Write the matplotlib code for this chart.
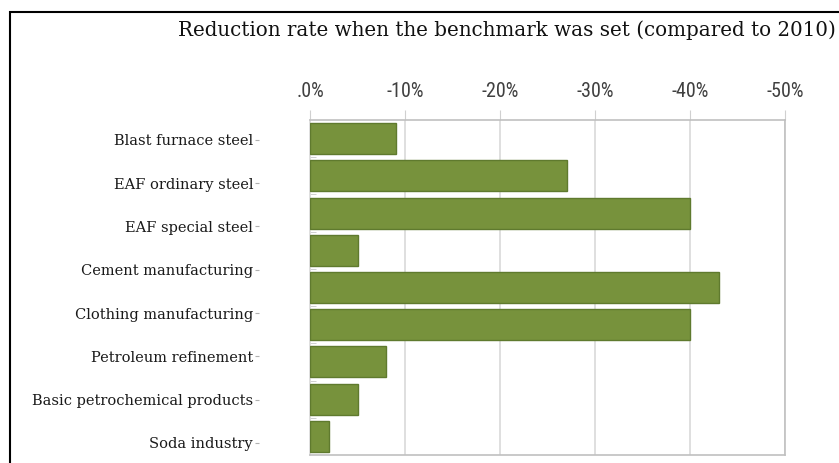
import matplotlib.pyplot as plt
import numpy as np
from matplotlib.patches import Rectangle

# reduction rate per bar (%), top to bottom
reduction = [-9, -27, -40, -5, -43, -40, -8, -5, -2]

sector_labels = ['Blast furnace steel', 'EAF ordinary steel', 'EAF special steel',
                 'Cement manufacturing', 'Clothing manufacturing', 'Petroleum refinement',
                 'Basic petrochemical products', 'Soda industry']

xticks = [0, -10, -20, -30, -40, -50]
xtick_labels = ['.0%', '-10%', '-20%', '-30%', '-40%', '-50%']

SERIF = ['DejaVu Serif']
NARROW = ['Roboto Condensed', 'Carlito', 'DejaVu Sans']

W, H = 839, 463
fig = plt.figure(figsize=(W / 100, H / 100), dpi=100)

# axes box in pixels: left 310, right 785, top 120, bottom 455
ax = fig.add_axes([310 / W, (H - 455) / H, 475 / W, 335 / H])

pos = np.arange(len(reduction))
ax.barh(pos, reduction, height=0.83, color='#77923c', edgecolor='#5f7a2e', linewidth=1, zorder=3)
ax.set_ylim(len(reduction) - 0.5, -0.5)
ax.set_xlim(0, -50)

ax.xaxis.tick_top()
ax.set_xticks(xticks)
ax.set_xticklabels(xtick_labels)
for t in ax.get_xticklabels():
    t.set_family(NARROW)
    t.set_fontsize(14.5)
    t.set_color('#404040')
ax.tick_params(axis='x', length=7, color='#d0d0d0', pad=7)
ax.grid(axis='x', color='#d9d9d9', linewidth=1.2, zorder=0)

ax.set_yticks([])
ax.set_yticks(pos[:-1] + 0.5, minor=True)
ax.tick_params(axis='y', which='minor', direction='in', length=4, color='#c8c8c8', labelleft=False)
for s in ax.spines.values():
    s.set_color('#c0c0c0')
    s.set_linewidth(1.2)
ax.spines['left'].set_color('#d9d9d9')

# sector names sit on their own scale, offset from the bars
ax2 = ax.twinx()
ax2.spines['left'].set_position(('outward', 37))
for s in ax2.spines.values():
    s.set_visible(False)
ax2.set_ylim(7.78, 0.04)
ax2.yaxis.set_ticks_position('left')
ax2.yaxis.set_label_position('left')
ax2.tick_params(axis='y', length=3, color='#b0b0b0', pad=1)
ax2.set_yticks(np.arange(len(sector_labels)) + 0.5)
ax2.set_yticklabels(sector_labels)
for t in ax2.get_yticklabels():
    t.set_family(SERIF)
    t.set_fontsize(10.5)
    t.set_color('#1a1a1a')

fig.text(178 / W, 1 - 30 / H, 'Reduction rate when the benchmark was set (compared to 2010)',
         family=SERIF, fontsize=14.3, color='#111111', ha='left', va='center')

# outer frame, open to the right and bottom
fig.patches.append(Rectangle((10 / W, -0.1), 1.2, 1 - 12 / H + 0.1, transform=fig.transFigure,
                             fill=False, edgecolor='black', linewidth=1.5))

fig.savefig('out.png', dpi=100)
